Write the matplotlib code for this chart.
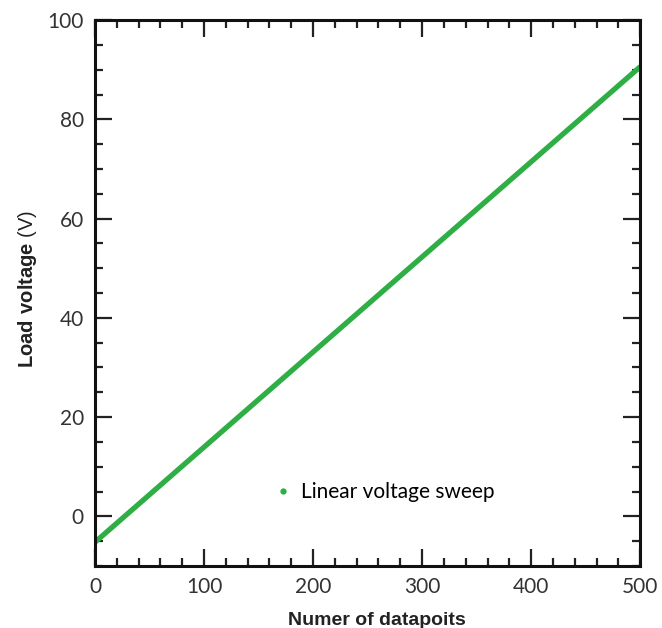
import matplotlib
matplotlib.use("Agg")
import matplotlib.pyplot as plt
from matplotlib.lines import Line2D
from matplotlib.ticker import MultipleLocator

plt.rcParams["mathtext.fontset"] = "custom"
plt.rcParams["mathtext.bf"] = "Liberation Sans:bold"
plt.rcParams["mathtext.rm"] = "Liberation Sans"

# sweep endpoints (datapoint index, volts)
datapoints = [0, 500]
load_voltage = [-5.2, 90.6]
series_label = "Linear voltage sweep"
green = "#2fae45"

fig = plt.figure(figsize=(6.62, 6.28), dpi=100)
ax = fig.add_axes([0.1435, 0.0987, 0.8235, 0.8693])

ax.plot(datapoints, load_voltage, color=green, lw=3.8, solid_capstyle="butt")

ax.set_xlim(0, 500)
ax.set_ylim(-10, 100)
ax.xaxis.set_major_locator(MultipleLocator(100))
ax.xaxis.set_minor_locator(MultipleLocator(20))
ax.yaxis.set_major_locator(MultipleLocator(20))
ax.yaxis.set_minor_locator(MultipleLocator(5))
ax.tick_params(which="both", direction="in", top=True, right=True,
               width=1.6, color="#222222")
ax.tick_params(which="major", length=12, labelsize=15, pad=8,
               labelcolor="#333333")
ax.tick_params(which="minor", length=6)
for sp in ax.spines.values():
    sp.set_linewidth(2.2)
    sp.set_color("#111111")

for lab in ax.get_xticklabels() + ax.get_yticklabels():
    lab.set_fontfamily("Lato")

ax.set_xlabel("Numer of datapoits", fontsize=14, fontweight="bold",
              family="Liberation Sans", color="#222222")
ax.xaxis.set_label_coords(0.517, -0.085)
ax.set_ylabel(r"$\mathbf{Load\ voltage}$ (V)", fontsize=14.5,
              family="Liberation Sans", color="#222222")
ax.yaxis.set_label_coords(-0.103, 0.508)

handle = Line2D([], [], color=green, marker="o", markersize=3.5, linestyle="none")
ax.legend([handle], [series_label], loc="center left",
          bbox_to_anchor=(0.287, 0.135), frameon=False, handletextpad=0.3,
          handlelength=1.2, prop={"family": "Lato", "size": 15})

fig.savefig("out.png", dpi=100)
